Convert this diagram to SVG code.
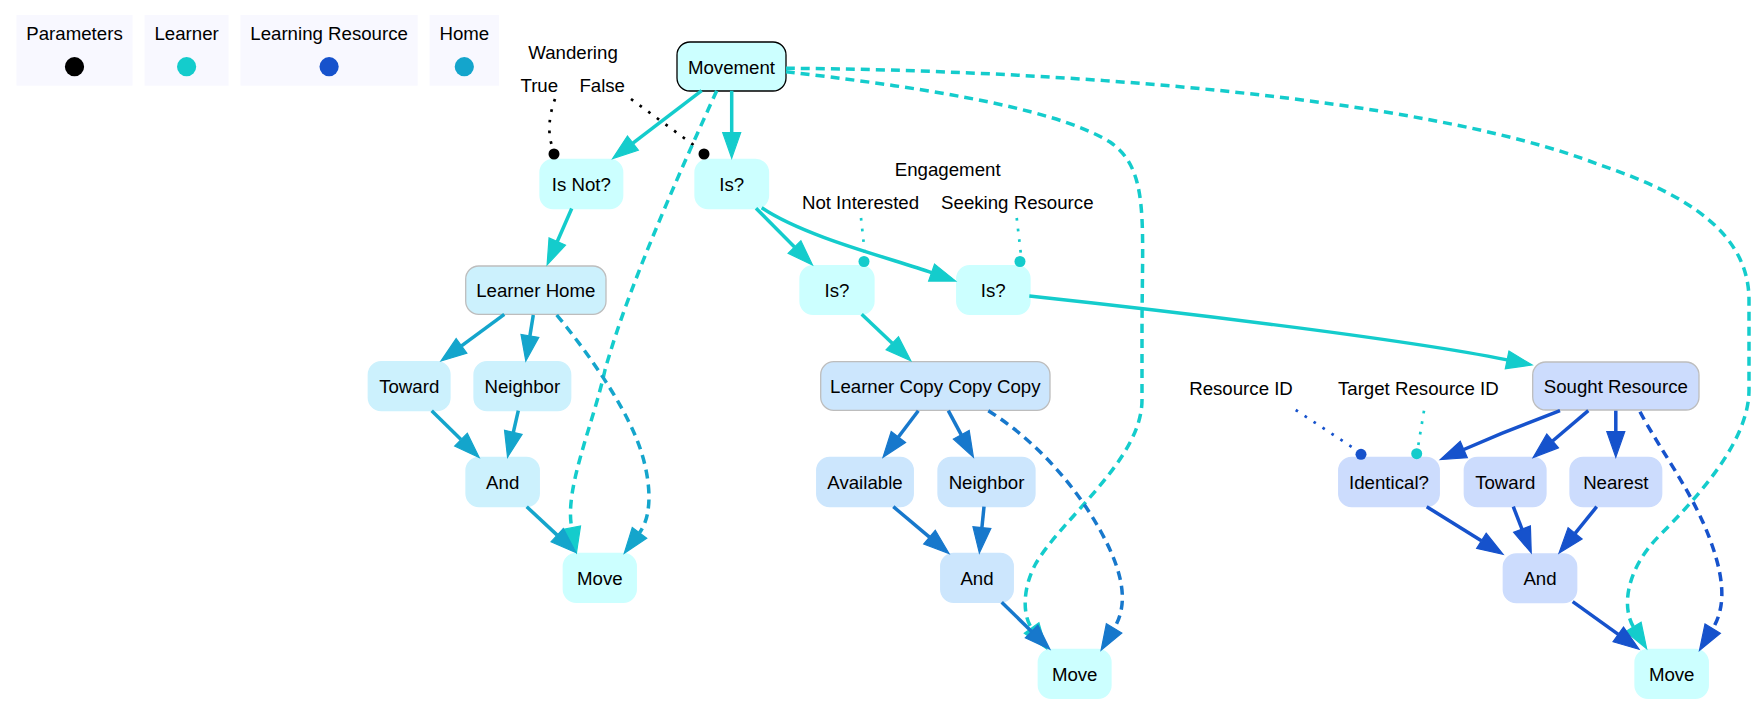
<svg xmlns="http://www.w3.org/2000/svg" width="1755" height="705" viewBox="0 0 1755 705">
<defs>
<style>
text{font-family:"Liberation Sans",Arial,Helvetica,sans-serif;font-size:18.67px;fill:#000;text-anchor:middle}
.lg{fill:#f8f8ff;stroke:none}
.n{stroke-width:1.3}
.fL{fill:#ccffff;stroke:#ccffff}
.fH{fill:#ccf1fd;stroke:#ccf1fd}
.fC{fill:#cce6fd;stroke:#cce6fd}
.fR{fill:#ccdcfd;stroke:#ccdcfd}
.bk{stroke:#000}
.gr{stroke:#bdbdbd}
.e{fill:none;stroke-width:3.5}
.d{stroke-dasharray:9,6}
.p{fill:none;stroke-width:2.7;stroke-dasharray:2.7,8}
.cL{stroke:#14cccc}
.cH{stroke:#14a5cc}
.cC{stroke:#1778cc}
.cR{stroke:#1652cc}
.cK{stroke:#000}
.mL{marker-end:url(#aL)}
.mH{marker-end:url(#aH)}
.mC{marker-end:url(#aC)}
.mR{marker-end:url(#aR)}
.ah{stroke-width:1.2;stroke-linejoin:miter}
</style>
<marker id="aL" markerUnits="userSpaceOnUse" markerWidth="30" markerHeight="22" refX="0" refY="9" orient="auto" overflow="visible"><path class="ah" d="M0,0 L25.5,9 L0,18 z" fill="#14cccc" stroke="#14cccc"/></marker>
<marker id="aH" markerUnits="userSpaceOnUse" markerWidth="30" markerHeight="22" refX="0" refY="9" orient="auto" overflow="visible"><path class="ah" d="M0,0 L25.5,9 L0,18 z" fill="#14a5cc" stroke="#14a5cc"/></marker>
<marker id="aC" markerUnits="userSpaceOnUse" markerWidth="30" markerHeight="22" refX="0" refY="9" orient="auto" overflow="visible"><path class="ah" d="M0,0 L25.5,9 L0,18 z" fill="#1778cc" stroke="#1778cc"/></marker>
<marker id="aR" markerUnits="userSpaceOnUse" markerWidth="30" markerHeight="22" refX="0" refY="9" orient="auto" overflow="visible"><path class="ah" d="M0,0 L25.5,9 L0,18 z" fill="#1652cc" stroke="#1652cc"/></marker>
</defs>
<rect width="1755" height="705" fill="#fff"/>

<g id="legend">
<g id="legend-parameters"><rect class="lg" x="16.5" y="15" width="116" height="70.7"/><text x="74.5" y="40">Parameters</text><circle cx="74.5" cy="66.7" r="9.6" fill="#000"/></g>
<g id="legend-learner"><rect class="lg" x="144.6" y="15" width="84" height="70.7"/><text x="186.6" y="40">Learner</text><circle cx="186.6" cy="66.7" r="9.6" fill="#14cccc"/></g>
<g id="legend-learning-resource"><rect class="lg" x="240.5" y="15" width="177.2" height="70.7"/><text x="329.1" y="40">Learning Resource</text><circle cx="329.1" cy="66.7" r="9.6" fill="#1652cc"/></g>
<g id="legend-home"><rect class="lg" x="429.6" y="15" width="69.4" height="70.7"/><text x="464.3" y="40">Home</text><circle cx="464.3" cy="66.7" r="9.6" fill="#14a5cc"/></g>
</g>

<g id="labels">
<text x="573" y="58.5">Wandering</text>
<text x="539.3" y="91.8">True</text>
<text x="602.2" y="91.8">False</text>
<text x="947.7" y="175.8">Engagement</text>
<text x="860.5" y="208.8">Not Interested</text>
<text x="1017.3" y="208.8">Seeking Resource</text>
<text x="1241" y="394.5">Resource ID</text>
<text x="1418.3" y="394.8">Target Resource ID</text>
</g>

<g id="n-movement"><rect class="n fL bk" x="677" y="42" width="109" height="49" rx="13"/><text x="731.5" y="73.5">Movement</text></g>
<g id="n-isnot"><rect class="n fL" x="540" y="159.5" width="82.7" height="49" rx="13"/><text x="581.3" y="191">Is Not?</text></g>
<g id="n-is"><rect class="n fL" x="695" y="159.5" width="73.5" height="49" rx="13"/><text x="731.7" y="191">Is?</text></g>
<g id="n-learnerhome"><rect class="n fH gr" x="465.7" y="266" width="140.3" height="48.3" rx="13"/><text x="535.8" y="297">Learner Home</text></g>
<g id="n-is-ni"><rect class="n fL" x="800" y="265.7" width="74" height="48.6" rx="13"/><text x="837" y="297">Is?</text></g>
<g id="n-is-sr"><rect class="n fL" x="956.7" y="265.7" width="73.3" height="48.6" rx="13"/><text x="993.3" y="297">Is?</text></g>
<g id="n-toward-h"><rect class="n fH" x="368.3" y="361.7" width="81.7" height="49" rx="13"/><text x="409.2" y="393">Toward</text></g>
<g id="n-neighbor-h"><rect class="n fH" x="474" y="361.7" width="96.7" height="49" rx="13"/><text x="522.3" y="393">Neighbor</text></g>
<g id="n-lccc"><rect class="n fC gr" x="820.7" y="361.7" width="229.3" height="48.6" rx="13"/><text x="935.3" y="393">Learner Copy Copy Copy</text></g>
<g id="n-sought"><rect class="n fR gr" x="1532.7" y="362" width="166.3" height="48" rx="13"/><text x="1615.8" y="393">Sought Resource</text></g>
<g id="n-and-h"><rect class="n fH" x="466" y="457.3" width="73.3" height="49.2" rx="13"/><text x="502.7" y="489">And</text></g>
<g id="n-available"><rect class="n fC" x="816.7" y="457.3" width="96.6" height="49.4" rx="13"/><text x="865" y="489">Available</text></g>
<g id="n-neighbor-c"><rect class="n fC" x="938" y="457.3" width="97" height="49.4" rx="13"/><text x="986.5" y="489">Neighbor</text></g>
<g id="n-identical"><rect class="n fR" x="1338.7" y="457.3" width="100.6" height="49.4" rx="13"/><text x="1389" y="489">Identical?</text></g>
<g id="n-toward-r"><rect class="n fR" x="1464.3" y="457.3" width="81.7" height="49.4" rx="13"/><text x="1505.2" y="489">Toward</text></g>
<g id="n-nearest"><rect class="n fR" x="1570" y="457.3" width="91.7" height="49.4" rx="13"/><text x="1615.8" y="489">Nearest</text></g>
<g id="n-move-h"><rect class="n fL" x="563.3" y="553.3" width="73" height="49" rx="13"/><text x="599.8" y="585">Move</text></g>
<g id="n-and-c"><rect class="n fC" x="940.7" y="553.3" width="72.6" height="49" rx="13"/><text x="977" y="585">And</text></g>
<g id="n-and-r"><rect class="n fR" x="1503.3" y="554" width="73.4" height="48.7" rx="13"/><text x="1540" y="585">And</text></g>
<g id="n-move-c"><rect class="n fL" x="1038.3" y="649.3" width="72.7" height="49" rx="13"/><text x="1074.7" y="681">Move</text></g>
<g id="n-move-r"><rect class="n fL" x="1635" y="649.3" width="73.3" height="49" rx="13"/><text x="1671.7" y="681">Move</text></g>

<g id="connectors">
<path class="p cK" d="M555,99 C549,115 547,135 553,148"/><circle cx="554" cy="154" r="5.5" fill="#000"/>
<path class="p cK" d="M631,99 L699,149"/><circle cx="704" cy="154" r="5.5" fill="#000"/>
<path class="p cL" d="M861,218 L865,255"/><circle cx="864" cy="261.5" r="5.5" fill="#14cccc"/>
<path class="p cL" d="M1016.7,218 L1021,255"/><circle cx="1020" cy="261.5" r="5.5" fill="#14cccc"/>
<path class="p cR" d="M1295.7,410 L1355,449"/><circle cx="1361" cy="454.3" r="5.5" fill="#1652cc"/>
<path class="p cL" d="M1424,410.7 L1418,447"/><circle cx="1416.7" cy="453.7" r="5.5" fill="#14cccc"/>

<path class="e cL mL" d="M701.7,90.7 L632.9,143.1"/>
<path class="e cL mL" d="M731.7,90.7 L731.7,132.6"/>
<path class="e cL mL" d="M756,208.3 L794.5,247"/>
<path class="e cL mL" d="M761.7,207.7 C805,237 890,258 931.6,272.6"/>
<path class="e cL mL" d="M861.7,314.3 L892.3,343.3"/>
<path class="e cL mL" d="M1029.3,296 C1150,309 1400,338 1507.1,359.9"/>
<path class="e cL mL" d="M571.7,208.5 L557.3,241.5"/>
<path class="e d cL mL" d="M716.7,90.7 C690,150 630,280 605,370 C593,425 564.2,488.4 571.7,527.7"/>
<path class="e d cL mL" d="M786,71.7 C900,85 1050,105 1110,142 C1150,170 1142,220 1142,333 L1142,400 C1142,460 1060,520 1035,565 C1022,590 1023,616 1031.6,628"/>
<path class="e d cL mL" d="M786,68.3 C1050,70 1420,95 1600,165 C1690,195 1749,235 1749,300 L1749,390 C1749,440 1700,495 1660,535 C1625,570 1622,608 1633.4,626.8"/>

<path class="e cH mH" d="M504.3,314.3 L461.5,345.9"/>
<path class="e cH mH" d="M533.3,315 L529.9,335.9"/>
<path class="e cH mH" d="M431.7,410.7 L461,439.6"/>
<path class="e cH mH" d="M518.3,410.7 L513.3,432.3"/>
<path class="e cH mH" d="M526.7,506.7 L557.2,535.1"/>
<path class="e d cH mH" d="M556.7,315 C590,355 620,400 635,435 C650,470 655,512 639.5,532.8"/>

<path class="e cC mC" d="M918.3,410.7 L898.4,437"/>
<path class="e cC mC" d="M948.3,410.7 L961.3,434.8"/>
<path class="e cC mC" d="M893.3,506.7 L929.5,537.1"/>
<path class="e cC mC" d="M984,506.7 L981.9,527.7"/>
<path class="e cC mC" d="M1001.7,602.3 L1031.6,631.4"/>
<path class="e d cC mC" d="M988.3,410.7 C1035,440 1075,485 1100,530 C1125,575 1128,605 1114.1,628.4"/>

<path class="e cR mR" d="M1560,410.7 L1501.7,433.3 L1463.8,449.5"/>
<path class="e cR mR" d="M1588.3,410.7 L1552.6,441"/>
<path class="e cR mR" d="M1615.8,410.7 L1615.8,431.6"/>
<path class="e cR mR" d="M1426.7,506.7 L1481.4,540.8"/>
<path class="e cR mR" d="M1513.3,506.7 L1522,529.1"/>
<path class="e cR mR" d="M1596.7,506.7 L1575.1,533.3"/>
<path class="e cR mR" d="M1572.7,601.7 L1618.3,634.4"/>
<path class="e d cR mR" d="M1640,411.7 C1660,450 1695,495 1712,545 C1726,585 1724,610 1712.7,628.6"/>
</g>
</svg>
